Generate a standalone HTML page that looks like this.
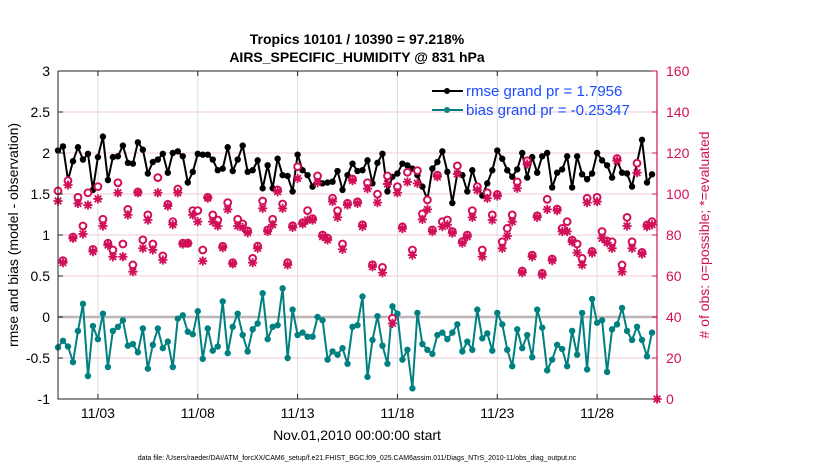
<!DOCTYPE html>
<html><head><meta charset="utf-8"><style>
body{margin:0;background:#fff;width:830px;height:470px;overflow:hidden}
text{font-family:"Liberation Sans",Arial,sans-serif}
</style></head><body>
<svg id="chart" width="830" height="470" xmlns="http://www.w3.org/2000/svg">
<rect width="830" height="470" fill="#fff"/>
<g id="grid"></g>
<g id="marks"></g>
<g id="axes"></g>
<text x="357" y="44" text-anchor="middle" font-size="14" font-weight="bold">Tropics 10101 / 10390 = 97.218%</text>
<text x="357" y="62" text-anchor="middle" font-size="14" font-weight="bold">AIRS_SPECIFIC_HUMIDITY @ 831 hPa</text>
<text transform="translate(18,235) rotate(-90)" text-anchor="middle" font-size="14">rmse and bias (model - observation)</text>
<text transform="translate(709,235) rotate(-90)" text-anchor="middle" font-size="14" fill="#d1105a"># of obs: o=possible; *=evaluated</text>
<text x="357" y="440" text-anchor="middle" font-size="14">Nov.01,2010 00:00:00 start</text>
<text x="357" y="460" text-anchor="middle" font-size="7">data file: /Users/raeder/DAI/ATM_forcXX/CAM6_setup/f.e21.FHIST_BGC.f09_025.CAM6assim.011/Diags_NTrS_2010-11/obs_diag_output.nc</text>
<g>
<line x1="432" y1="91" x2="463" y2="91" stroke="#000" stroke-width="2"/><circle cx="447" cy="91" r="3" fill="#000"/>
<text x="466" y="96" font-size="15" fill="#1a4dff">rmse grand pr = 1.7956</text>
<line x1="432" y1="110" x2="463" y2="110" stroke="#008080" stroke-width="2"/><circle cx="447" cy="110" r="3" fill="#008080"/>
<text x="466" y="115" font-size="15" fill="#1a4dff">bias grand pr = -0.25347</text>
</g>
</svg>
<script>
const rmse=[2.03,2.08,1.67,1.9,2.07,1.92,1.99,1.55,1.95,2.2,1.67,1.95,1.96,2.09,1.88,1.87,2.13,2.04,1.75,1.89,1.92,1.99,1.76,2.0,2.02,1.96,1.64,1.77,1.99,1.98,1.98,1.92,
1.79,1.81,2.07,1.78,1.92,2.09,1.77,1.79,1.91,1.57,1.85,1.57,1.93,1.73,1.72,1.53,1.98,1.79,1.73,1.59,1.69,1.63,1.64,1.65,1.78,1.55,1.73,1.87,1.78,1.79,
1.91,1.63,1.88,1.99,1.53,1.71,1.75,1.87,1.85,1.81,1.73,1.59,1.43,1.81,1.89,2.02,1.77,1.39,1.75,1.73,1.53,1.79,1.59,1.48,1.63,1.79,2.03,1.93,1.79,1.71,
1.80,2.0,1.70,1.95,1.76,1.96,2.0,1.58,1.76,1.80,1.96,1.58,1.96,1.74,1.68,1.75,2.0,1.91,1.85,1.70,1.91,1.76,1.75,1.59,1.88,2.16,1.64,1.74];
const bias=[-0.37,-0.29,-0.36,-0.55,-0.17,0.16,-0.72,-0.11,-0.27,0.04,-0.61,-0.17,-0.12,-0.04,-0.35,-0.33,-0.43,-0.14,-0.63,-0.34,-0.14,-0.38,-0.30,-0.61,-0.02,0.02,-0.18,-0.21,0.07,-0.51,-0.14,-0.41,
-0.36,0.19,-0.44,-0.12,0.04,-0.22,-0.42,-0.15,-0.08,0.29,-0.27,-0.12,-0.10,0.35,-0.50,0.09,-0.22,-0.19,-0.24,-0.24,0.0,-0.04,-0.52,-0.42,-0.46,-0.38,-0.57,-0.12,-0.10,0.25,
-0.73,-0.28,0.01,-0.35,-0.57,0.13,0.04,-0.52,-0.40,-0.87,0.05,-0.33,-0.40,-0.45,-0.22,-0.19,-0.27,-0.19,-0.09,-0.42,-0.30,-0.40,0.09,-0.26,-0.20,-0.41,0.05,-0.09,-0.40,-0.60,
-0.15,-0.38,-0.22,-0.49,0.09,-0.13,-0.65,-0.52,-0.34,-0.39,-0.60,-0.17,-0.46,0.05,-0.64,0.22,-0.07,-0.04,-0.67,-0.15,-0.09,0.11,-0.17,-0.28,-0.12,-0.28,-0.48,-0.19];
const possible=[101.5,67.5,106.5,79,98.4,84.4,100.6,73,103.6,87.7,76,72.7,105.5,75.6,92.5,65.4,101,77.6,89.8,75.6,108,69.8,95,86.5,102.4,76,76,91.9,91.9,72.7,98.4,89.8,
87.3,74.5,95.8,66.5,87.7,85.4,82,68.6,74.6,96.6,82.5,87.7,102,95.1,66.5,84.5,113.3,86,91.9,88,108.8,80,78.5,97.9,91.9,75.6,95.5,107.3,96.2,85,
105.5,65.5,99.9,64.2,108.8,39.4,103.6,84,110.6,72.7,111.4,90.3,97.1,82.5,109.2,86.5,87.3,81.7,113.7,76.8,80,91.9,103.6,72.7,100.6,89.8,99.8,76.7,83.2,89.8,
105.9,62.4,116.2,70.2,89.4,61.3,97.4,68.3,92.7,83.2,86.5,77.5,75.6,68.6,97.9,72,98.4,81.7,77.1,76.7,117.3,65.4,88.6,76.7,115,71.5,84.9,86.5];
const evaluated=[96.6,66.5,104.4,78.4,95.4,80.5,94.6,71.9,97.6,84.4,75.1,69.4,100.6,69.4,89.8,62.1,100.6,73.5,87.3,72.7,100.6,67.8,94.1,85,100.6,75.6,76,89.8,86.5,67.3,98,86.5,
84.4,73.8,92.5,65.9,84.4,83.7,81.1,66.5,73.5,93,81.7,85,101.1,93,65.4,83.7,107.6,85.4,87.3,87.3,105.5,79.2,77.6,96.3,88.6,73,94.6,106.5,95.4,84.1,
102.6,64.5,95.8,61.6,104.9,36.9,100.6,83.1,105.9,70.2,105.2,87.6,92.5,81.7,108.4,84.1,85,80.9,109.8,76,79.2,88.6,101.9,69.4,97.9,87.3,99,73.5,79.5,86.5,
102.8,61.6,114.6,69.4,88.6,60.5,92.5,67.5,91.9,81.7,81.7,76.7,71.4,65.4,95.8,71.2,96.3,78.4,76.3,73.5,116.2,62.1,84.4,73.5,110.4,70.7,84.1,85];
const xTickDays=[2,7,12,17,22,27];
const xTickLabels=["11/03","11/08","11/13","11/18","11/23","11/28"];
const yTicks=[-1,-0.5,0,0.5,1,1.5,2,2.5,3];
const yTickLabels=["-1","-0.5","0","0.5","1","1.5","2","2.5","3"];
const rTicks=[0,20,40,60,80,100,120,140,160];
const stepDays=0.25;

const NS="http://www.w3.org/2000/svg";
const L=58,R=657,T=71,B=399;
const xs=d=>L+(d/30)*(R-L);
const ys=v=>B-(v+1)/4*(B-T);
const yr=c=>B-c/160*(B-T);
function mk(tag,attrs,parent){const e=document.createElementNS(NS,tag);for(const k in attrs)e.setAttribute(k,attrs[k]);parent.appendChild(e);return e;}
const gridG=document.getElementById('grid'),marksG=document.getElementById('marks'),axesG=document.getElementById('axes');
rTicks.forEach(c=>{const g=mk('line',{x1:L,x2:R,y1:yr(c),y2:yr(c),stroke:'#f2c8d8','stroke-width':1},gridG);

});
xTickDays.forEach(d=>{const g=mk('line',{x1:xs(d),x2:xs(d),y1:T,y2:B,stroke:'#dcdcdc','stroke-width':1},gridG);

});
const zeroLine=mk('line',{x1:L,x2:R,y1:ys(0),y2:ys(0),stroke:'#bdb5b8','stroke-width':2.5},gridG);


const pink='#d1105a';
function star(x,y,parent){
const g=mk('g',{},parent);
const a=4.6,b=3.3;
mk('path',{d:`M${x-a},${y}H${x+a}M${x},${y-a}V${y+a}M${x-b},${y-b}L${x+b},${y+b}M${x-b},${y+b}L${x+b},${y-b}`,stroke:pink,'stroke-width':1.8},g);
mk('circle',{cx:x,cy:y,r:2.6,fill:pink},g);
return g;}
function series(arr,color,name){
const pts=arr.map((v,i)=>xs(stepDays*i).toFixed(1)+','+ys(v).toFixed(1)).join(' ');
const p=mk('polyline',{points:pts,fill:'none',stroke:color,'stroke-width':2,'stroke-linejoin':'round'},marksG);


arr.forEach((v,i)=>{const c=mk('circle',{cx:xs(stepDays*i),cy:ys(v),r:3.2,fill:color},marksG);

});}
series(rmse,'#000','rmse');
series(bias,'#008080','bias');
possible.forEach((c,i)=>{const x=xs(stepDays*i);
const o=mk('circle',{cx:x,cy:yr(c),r:3.4,fill:'#fff',stroke:pink,'stroke-width':2},marksG);

});
evaluated.forEach((c,i)=>{
const s=star(xs(stepDays*i),yr(c),marksG);

});
const ax=mk('path',{d:`M${L},${T}V${B}H${R}`,fill:'none',stroke:'#222','stroke-width':1},axesG);


const topBorder=mk('line',{x1:L,x2:R,y1:T,y2:T,stroke:'#222','stroke-width':1},axesG);


const ra=mk('line',{x1:R,x2:R,y1:T,y2:B,stroke:pink,'stroke-width':1.2},axesG);


yTicks.forEach((v,i)=>{mk('line',{x1:L,x2:L+5,y1:ys(v),y2:ys(v),stroke:'#222'},axesG);
const t=mk('text',{x:L-8,y:ys(v)+5,'text-anchor':'end','font-size':14},axesG);t.textContent=yTickLabels[i];

});
rTicks.forEach(c=>{mk('line',{x1:R-5,x2:R,y1:yr(c),y2:yr(c),stroke:pink},axesG);
const t=mk('text',{x:R+9,y:yr(c)+5,'font-size':14,fill:pink},axesG);t.textContent=c;

});
xTickDays.forEach((d,i)=>{mk('line',{x1:xs(d),x2:xs(d),y1:B,y2:B-5,stroke:'#222'},axesG);
mk('line',{x1:xs(d),x2:xs(d),y1:T,y2:T+5,stroke:'#222'},axesG);
const t=mk('text',{x:xs(d),y:B+19,'text-anchor':'middle','font-size':14},axesG);t.textContent=xTickLabels[i];

});
const endMark=star(R,B,axesG);


</script>
</body></html>
